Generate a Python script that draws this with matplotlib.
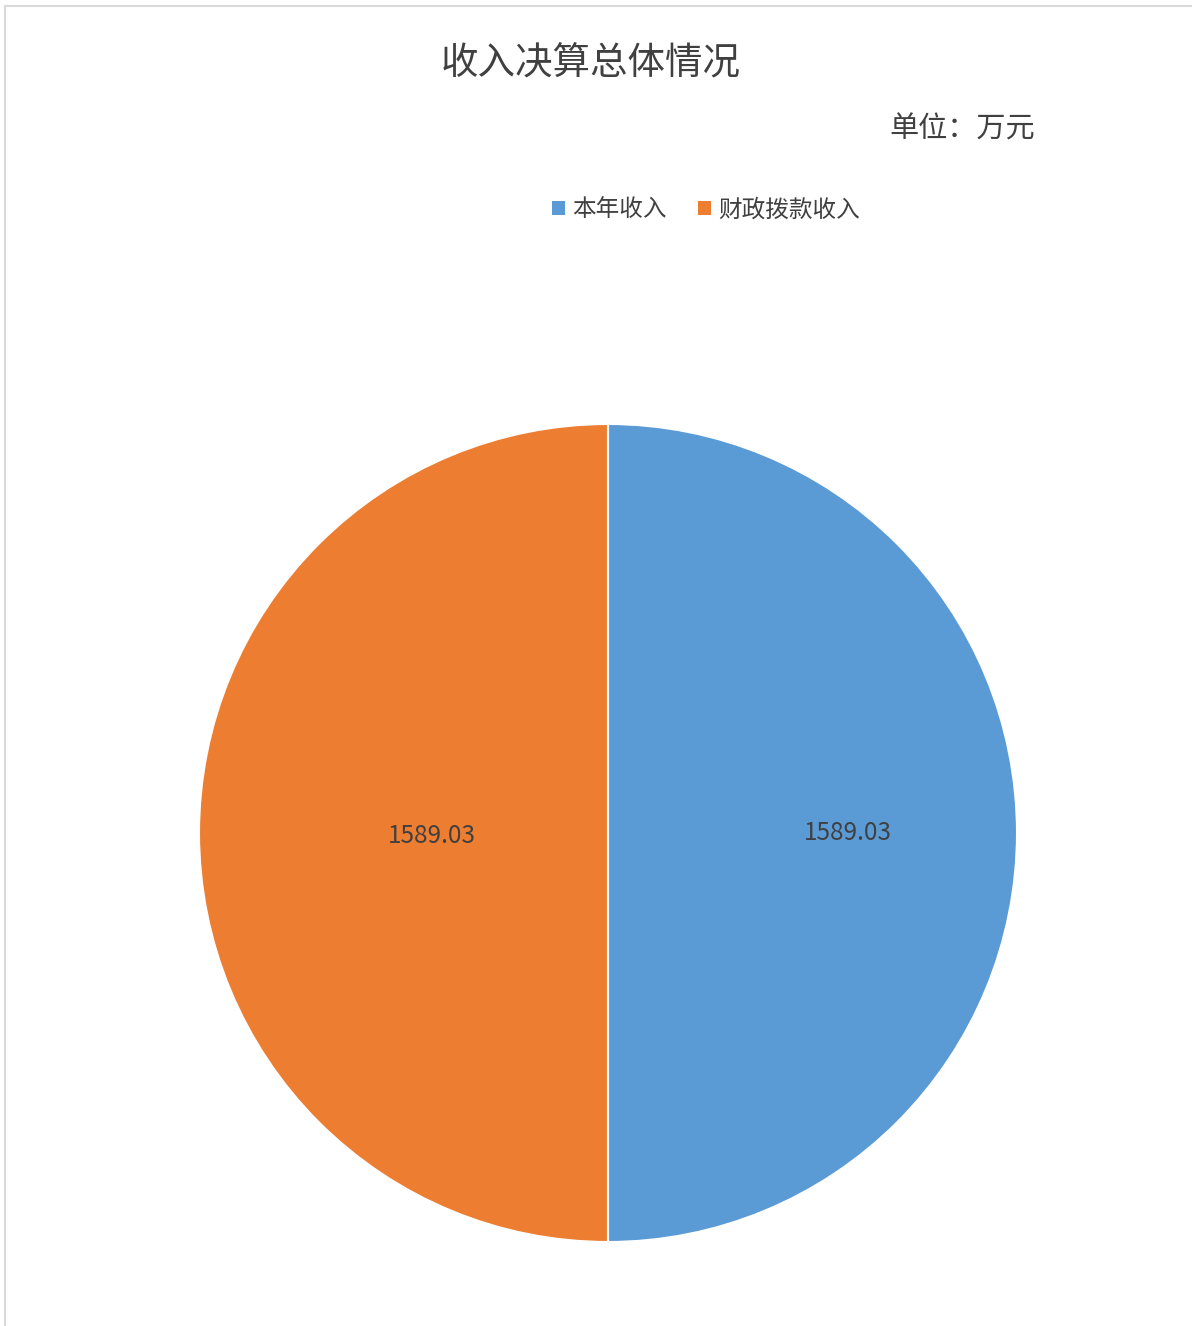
import matplotlib
matplotlib.use('Agg')
import matplotlib.pyplot as plt
import numpy as np
from matplotlib.patches import Patch
from matplotlib.lines import Line2D

plt.rcParams['font.family'] = ['Noto Sans CJK SC', 'DejaVu Sans']

categories = ['本年收入', '财政拨款收入']
values = [1589.03, 1589.03]
colors = ['#5B9BD5', '#ED7D31']
title = '收入决算总体情况'
unit_text = '单位：万元'

W, H = 1192, 1326
fig = plt.figure(figsize=(W / 100, H / 100), dpi=100)

# chart frame (only top and left edges visible)
fig.add_artist(Line2D([4.5 / W, 1.0], [1 - 5.5 / H, 1 - 5.5 / H], color='#d9d9d9', lw=1.5))
fig.add_artist(Line2D([4.5 / W, 4.5 / W], [0.0, 1 - 5.5 / H], color='#d9d9d9', lw=1.5))

cx, cy, r = 608, 833, 409
ax = fig.add_axes([(cx - r) / W, 1 - (cy + r) / H, 2 * r / W, 2 * r / H])
total = sum(values)
wedges, texts, autotexts = ax.pie(
    values, colors=colors, startangle=90, counterclock=False,
    autopct=lambda p: f'{p * total / 100:.2f}', pctdistance=0.59,
    wedgeprops=dict(edgecolor='white', linewidth=1.5),
    textprops=dict(color='#404040', fontsize=17.5))

# Excel-style label placement: labels sit at different spots per slice
label_dist = [0.587, 0.43]
label_dy = [0.0, -0.007]
for w, t, d, dy in zip(wedges, autotexts, label_dist, label_dy):
    ang = np.deg2rad((w.theta1 + w.theta2) / 2)
    t.set_position((d * np.cos(ang), d * np.sin(ang) + dy))

ax.set_xlim(-1.0, 1.0)
ax.set_ylim(-1.0, 1.0)
ax.set_aspect('equal')
ax.axis('off')

fig.text(591 / W, 1 - 64 / H, title, ha='center', va='center', fontsize=27, color='#404040')
fig.text(1035 / W, 1 - 130 / H, unit_text, ha='right', va='center', fontsize=21, color='#404040')

handles = [Patch(facecolor=c, edgecolor='none', label=n) for c, n in zip(colors, categories)]
fig.legend(handles=handles, loc='center', bbox_to_anchor=(706 / W, 1 - 210 / H), ncol=2,
           frameon=False, fontsize=17, handlelength=0.55, handleheight=0.55, handletextpad=0.3,
           columnspacing=1.3, labelcolor='#404040')

fig.savefig('out.png', dpi=100)
